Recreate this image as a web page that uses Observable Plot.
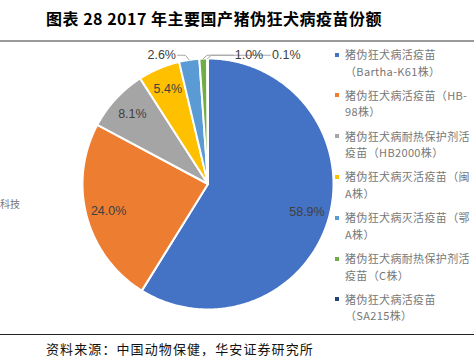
<!DOCTYPE html>
<html><head><meta charset="utf-8">
<script src="https://cdn.jsdelivr.net/npm/d3@7"></script>
<script src="https://cdn.jsdelivr.net/npm/@observablehq/plot@0.6"></script>
<style>
html,body{margin:0;padding:0;background:#fff;}
#wrap{position:relative;width:474px;height:357px;overflow:hidden;font-family:"Noto Sans CJK SC",sans-serif;}
#chart{position:absolute;left:0;top:0;}
.abs{position:absolute;white-space:nowrap;}
#title{left:46px;top:7px;font-size:16px;font-weight:700;color:#000;line-height:22px;letter-spacing:0.5px;}
#rule1{left:0;top:40px;width:474px;height:2px;background:#9a9a9a;}
#rule2{left:0;top:334px;width:474px;height:1px;background:#222;}
#source{left:46px;top:341px;font-size:13px;color:#111;line-height:15px;letter-spacing:1.1px;}
.leg{position:absolute;left:345px;font-size:11px;line-height:16.5px;color:#777;white-space:pre;letter-spacing:0.35px;}
.mk{position:absolute;left:335px;width:4px;height:4px;}
#side{left:0px;top:197px;font-size:10px;color:#777;line-height:14px;}
</style></head>
<body><div id="wrap">
<div id="chart"></div>
<div class="abs" id="title">图表 28 2017 年主要国产猪伪狂犬病疫苗份额</div>
<div class="abs" id="rule1"></div>
<div class="abs" id="rule2"></div>
<div class="abs" id="source">资料来源：中国动物保健，华安证券研究所</div>
<div class="abs" id="side">科技</div>
</div>
<script>
const categories = [
  "猪伪狂犬病活疫苗\n（Bartha-K61株）",
  "猪伪狂犬病活疫苗（HB-\n98株）",
  "猪伪狂犬病耐热保护剂活\n疫苗（HB2000株）",
  "猪伪狂犬病灭活疫苗（闽\nA株）",
  "猪伪狂犬病灭活疫苗（鄂\nA株）",
  "猪伪狂犬病耐热保护剂活\n疫苗（C株）",
  "猪伪狂犬病活疫苗\n（SA215株）"
];
const values = [58.9, 24.0, 8.1, 5.4, 2.6, 1.0, 0.1];
const valueLabels = ["58.9%", "24.0%", "8.1%", "5.4%", "2.6%", "1.0%", "0.1%"];
const colors = ["#4472C4", "#ED7D31", "#A5A5A5", "#FFC000", "#5B9BD5", "#70AD47", "#264478"];

// layout
const W = 474, H = 357, cx = 207.5, cy = 183.5, R = 125.5;
const arcs = d3.pie().sort(null).startAngle(0).endAngle(2 * Math.PI)(values);

const slicePts = [];
arcs.forEach((a, i) => {
  slicePts.push({k: i, x: 0, y: 0});
  const n = Math.max(2, Math.ceil((a.endAngle - a.startAngle) / 0.01));
  for (let j = 0; j <= n; j++) {
    const t = a.startAngle + (a.endAngle - a.startAngle) * j / n;
    slicePts.push({k: i, x: Math.sin(t), y: Math.cos(t)});
  }
  slicePts.push({k: i, x: 0, y: 0});
});

const mid = a => (a.startAngle + a.endAngle) / 2;
const inside = arcs.map((a, i) => ({i, a})).filter(d => values[d.i] >= 5).map(d => ({
  x: 0.82 * Math.sin(mid(d.a)), y: 0.82 * Math.cos(mid(d.a)), t: valueLabels[d.i]
}));

const outsideCfg = {4: {tx: -0.255, anchor: "end"}, 5: {tx: 0.213, anchor: "start"}, 6: {tx: 0.51, anchor: "start"}};
const ly = 1.026;
const outsideText = [], leaders = [];
Object.entries(outsideCfg).forEach(([k, c]) => {
  const i = +k, a = arcs[i], m = mid(a);
  const ex = Math.sin(m), ey = Math.cos(m);
  outsideText.push({x: c.tx, y: ly, t: valueLabels[i], anchor: c.anchor});
  const dir = c.anchor === "end" ? -1 : 1;
  leaders.push({k: i, x: ex, y: ey});
  leaders.push({k: i, x: ex + dir * 0.03, y: ly});
  leaders.push({k: i, x: c.tx - dir * 0.012, y: ly});
});

const font = "Liberation Sans, Arial, sans-serif";
const plot = Plot.plot({
  width: W, height: H, margin: 0,
  x: {domain: [-cx / R, (W - cx) / R], axis: null},
  y: {domain: [-(H - cy) / R, cy / R], axis: null},
  color: {domain: d3.range(values.length), range: colors},
  marks: [
    Plot.line(slicePts, {x: "x", y: "y", z: "k", fill: "k", stroke: "white", strokeWidth: 2, strokeLinejoin: "round", curve: "linear"}),
    Plot.line(leaders, {x: "x", y: "y", z: "k", stroke: "#a6a6a6", strokeWidth: 1}),
    Plot.text(inside, {x: "x", y: "y", text: "t", fill: "#404040", fontSize: 12.5, fontFamily: font}),
    Plot.text(outsideText.filter(d => d.anchor === "end"), {x: "x", y: "y", text: "t", textAnchor: "end", fill: "#404040", fontSize: 12.5, fontFamily: font}),
    Plot.text(outsideText.filter(d => d.anchor === "start"), {x: "x", y: "y", text: "t", textAnchor: "start", fill: "#404040", fontSize: 12.5, fontFamily: font})
  ]
});
document.getElementById("chart").appendChild(plot);

const wrap = document.getElementById("wrap");
categories.forEach((c, i) => {
  const top = 46 + i * 40.8;
  const t = document.createElement("div");
  t.className = "leg"; t.style.top = top + "px"; t.textContent = c;
  wrap.appendChild(t);
  const m = document.createElement("div");
  m.className = "mk"; m.style.top = (top + 6.5) + "px"; m.style.background = colors[i];
  wrap.appendChild(m);
});
</script>
</body></html>
